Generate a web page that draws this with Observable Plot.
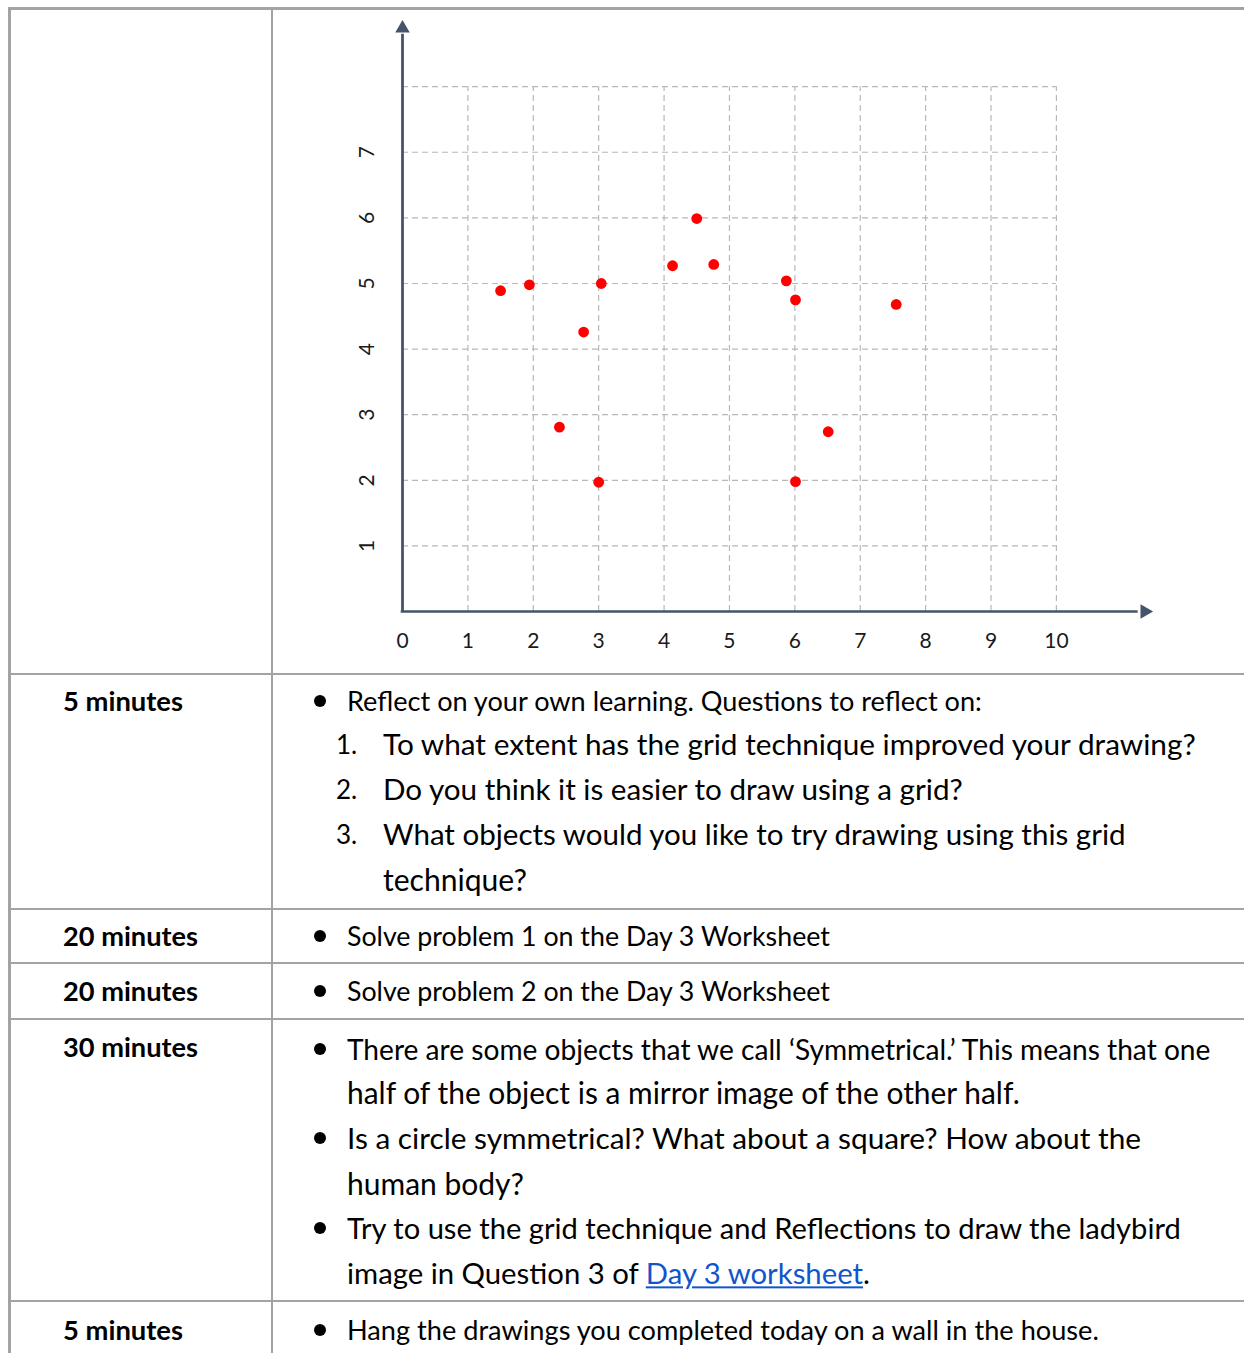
<!DOCTYPE html>
<html>
<head>
<meta charset="utf-8">
<script src="https://cdn.jsdelivr.net/npm/d3@7"></script>
<script src="https://cdn.jsdelivr.net/npm/@observablehq/plot@0.6"></script>
<style>
  html, body { margin: 0; padding: 0; background: #fff; }
  #page { position: relative; width: 1244px; height: 1353px; overflow: hidden; font-family: Lato, "Open Sans", sans-serif; color: #000; }
  .hb { position: absolute; background: #a3a3a3; }
  .t { position: absolute; white-space: nowrap; line-height: 1; transform: translateY(-50%); }
  .dotb { position: absolute; width: 12px; height: 12px; border-radius: 50%; background: #000; transform: translate(-50%, -50%); }
  a { color: #1155cc; text-decoration: underline; }
  #chart { position: absolute; left: 272px; top: 0px; }
</style>
</head>
<body>
<div id="page"><div id="chart"></div></div>
<script>
// ---- chart data ----
const xTickValues = [0, 1, 2, 3, 4, 5, 6, 7, 8, 9, 10];
const yTickValues = [1, 2, 3, 4, 5, 6, 7];
const gridXValues = [1, 2, 3, 4, 5, 6, 7, 8, 9, 10];
const gridYValues = [1, 2, 3, 4, 5, 6, 7, 8];
const pointX = [1.50, 1.94, 3.04, 2.77, 2.40, 3.00, 4.13, 4.50, 4.76, 5.87, 6.01, 7.55, 6.51, 6.01];
const pointY = [4.89, 4.98, 5.00, 4.26, 2.81, 1.97, 5.27, 5.99, 5.29, 5.04, 4.75, 4.68, 2.74, 1.98];

// ---- table text ----
const durations = ["5 minutes", "20 minutes", "20 minutes", "30 minutes", "5 minutes"];
const reflectIntro = "Reflect on your own learning. Questions to reflect on:";
const reflectQuestions = [
  ["1.", "To what extent has the grid technique improved your drawing?"],
  ["2.", "Do you think it is easier to draw using a grid?"],
  ["3.", "What objects would you like to try drawing using this grid"],
  ["", "technique?"]
];
const solveLines = ["Solve problem 1 on the Day 3 Worksheet", "Solve problem 2 on the Day 3 Worksheet"];
const symmetryLines = [
  ["●", "There are some objects that we call ‘Symmetrical.’ This means that one"],
  ["", "half of the object is a mirror image of the other half."],
  ["●", "Is a circle symmetrical? What about a square? How about the"],
  ["", "human body?"],
  ["●", "Try to use the grid technique and Reflections to draw the ladybird"],
  ["", "image in Question 3 of <a>Day 3 worksheet</a>."]
];
const hangLine = "Hang the drawings you completed today on a wall in the house.";

const points = pointX.map((x, i) => ({x, y: pointY[i]}));
const axisColor = "#44546a";
const gridStyle = {stroke: "#b8b8b8", strokeOpacity: 1, strokeWidth: 1.2, strokeDasharray: "6,4"};

const chart = Plot.plot({
  width: 972,
  height: 674,
  marginLeft: 130,
  marginRight: 90,
  marginTop: 14,
  marginBottom: 63,
  x: {domain: [0, 11.5], axis: null},
  y: {domain: [0, 9.1], axis: null},
  style: {fontFamily: "Lato, sans-serif", background: "transparent", overflow: "visible"},
  marks: [
    Plot.ruleX(gridXValues, {x: d => d, y1: 0, y2: 8, ...gridStyle}),
    Plot.ruleY(gridYValues, {y: d => d, x1: 0, x2: 10, ...gridStyle}),
    Plot.ruleX([0], {x: d => d, y1: 0, y2: 8.8, stroke: axisColor, strokeWidth: 2.8}),
    Plot.ruleY([0], {y: d => d, x1: -0.02, x2: 11.25, stroke: axisColor, strokeWidth: 2.6}),
    Plot.dot([0], {x: 0, y: 8.89, symbol: "triangle", r: 5.4, fill: axisColor, stroke: "none"}),
    Plot.dot([0], {x: 11.35, y: 0, symbol: "triangle", rotate: 90, r: 5.4, fill: axisColor, stroke: "none"}),
    Plot.dot(points, {x: "x", y: "y", r: 5.4, fill: "#ff0000", stroke: "none"}),
    Plot.text(xTickValues, {x: d => d, y: 0, dy: 30, text: d => String(d), fontSize: 21, fill: "#1a1a1a"}),
    Plot.text(yTickValues, {x: 0, y: d => d, dx: -35, rotate: -90, text: d => String(d), fontSize: 21, fill: "#1a1a1a"})
  ]
});
document.getElementById("chart").appendChild(chart);

// ---- table layout ----
const page = document.getElementById("page");
function box(x, y, w, h) {
  const d = document.createElement("div");
  d.className = "hb";
  Object.assign(d.style, {left: x + "px", top: y + "px", width: w + "px", height: h + "px"});
  page.appendChild(d);
}
function text(x, yc, html, size, target, weight) {
  const d = document.createElement("div");
  d.className = "t";
  d.innerHTML = html;
  Object.assign(d.style, {left: x + "px", top: yc + "px", fontSize: size + "px", fontWeight: weight || 400});
  page.appendChild(d);
  if (target) {
    const w = d.getBoundingClientRect().width;
    d.style.fontSize = (size * target / w).toFixed(2) + "px";
  }
  return d;
}
function bullet(x, yc) {
  const d = document.createElement("div");
  d.className = "dotb";
  Object.assign(d.style, {left: x + "px", top: yc + "px"});
  page.appendChild(d);
}

// borders
box(8, 7, 1236, 3);
box(8, 7, 3, 1346);
box(271, 7, 2, 1346);
[673, 908, 962, 1018, 1300].forEach(y => box(8, y, 1236, 2));

// left column
const durY = [701, 936, 991, 1047, 1330];
const durW = [120, 135, 135, 135, 120];
durations.forEach((t, i) => text(63, durY[i], t, 24, durW[i], 700));

// right column
const S = 24;
bullet(320, 701); text(347, 701, reflectIntro, S, 635);
const qY = [744, 789, 834, 879];
const qW = [813, 580, 743, 144];
reflectQuestions.forEach(([n, t], i) => {
  if (n) text(336, qY[i], n, 26);
  text(383, qY[i], t, 26, qW[i]);
});
bullet(320, 936); text(347, 936, solveLines[0], S, 483);
bullet(320, 991); text(347, 991, solveLines[1], S, 483);
const symY = [1049, 1093, 1138, 1183, 1228, 1273];
const symW = [864, 673, 794, 177, 834, 523];
symmetryLines.forEach(([b, t], i) => {
  if (b) bullet(320, symY[i]);
  text(347, symY[i], t, S, symW[i]);
});
bullet(320, 1330); text(347, 1330, hangLine, S, 752);
</script>
</body>
</html>
